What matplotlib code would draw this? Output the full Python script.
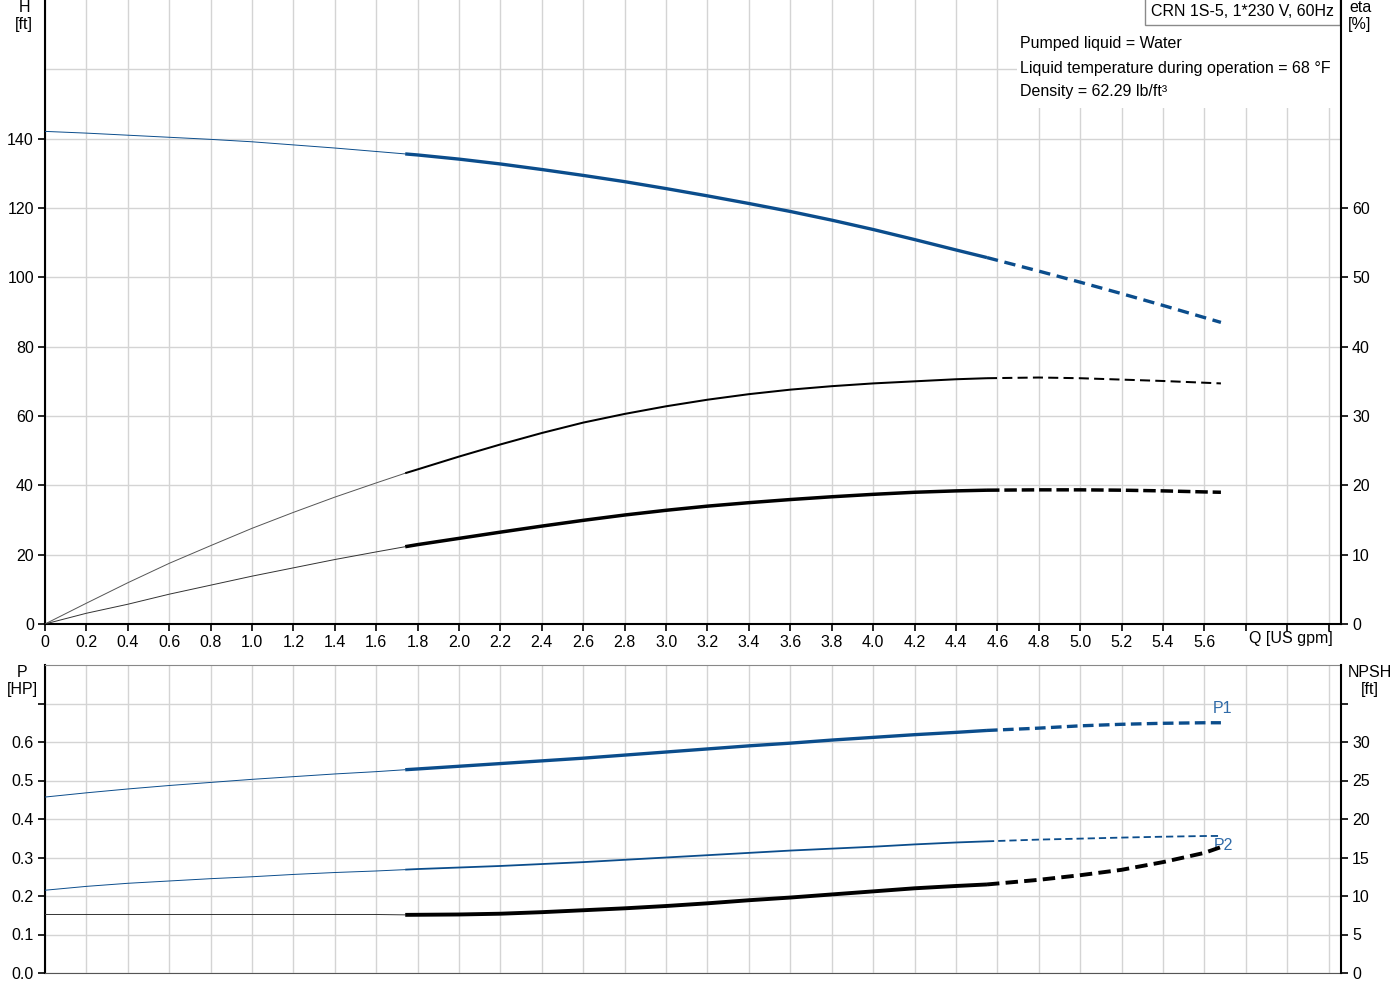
import matplotlib
matplotlib.use("Agg")
import matplotlib.pyplot as plt
import numpy as np
from matplotlib.patches import Rectangle

plt.rcParams['font.family'] = ['Liberation Sans', 'DejaVu Sans']
plt.rcParams['font.size'] = 11.5

# flow points [US gpm]
q = [0, 0.2, 0.4, 0.6, 0.8, 1.0, 1.2, 1.4, 1.6, 1.74, 1.8, 2.0, 2.2, 2.4,
     2.6, 2.8, 3.0, 3.2, 3.4, 3.6, 3.8, 4.0, 4.2, 4.4, 4.55, 4.8, 5.0, 5.2,
     5.4, 5.6, 5.68]
# head [ft]
head = [142.1, 141.6, 141.0, 140.4, 139.8, 139.1, 138.2, 137.3, 136.3, 135.6,
        135.3, 134.1, 132.7, 131.1, 129.4, 127.6, 125.6, 123.5, 121.3, 119.0,
        116.5, 113.8, 110.9, 107.9, 105.7, 101.8, 98.6, 95.3, 91.9, 88.4, 87.0]
# efficiencies [%]
eta_pump = [0, 3.0, 5.95, 8.75, 11.3, 13.8, 16.1, 18.3, 20.35, 21.75, 22.3,
            24.15, 25.9, 27.55, 29.05, 30.3, 31.4, 32.35, 33.15, 33.8, 34.3,
            34.7, 35.0, 35.3, 35.45, 35.55, 35.45, 35.25, 35.05, 34.8, 34.7]
eta_total = [0, 1.55, 2.85, 4.3, 5.6, 6.9, 8.1, 9.3, 10.4, 11.15, 11.45,
             12.35, 13.25, 14.12, 14.95, 15.72, 16.4, 17.0, 17.5, 17.95, 18.35,
             18.7, 19.0, 19.2, 19.3, 19.35, 19.35, 19.3, 19.2, 19.05, 19.0]
# power [HP]
p1 = [0.457, 0.468, 0.478, 0.487, 0.495, 0.503, 0.510, 0.517, 0.523, 0.528,
      0.530, 0.537, 0.544, 0.551, 0.558, 0.566, 0.574, 0.582, 0.590, 0.597,
      0.605, 0.612, 0.619, 0.625, 0.630, 0.636, 0.642, 0.646, 0.6486, 0.650,
      0.650]
p2 = [0.215, 0.225, 0.233, 0.239, 0.245, 0.250, 0.256, 0.261, 0.265, 0.2685,
      0.270, 0.274, 0.278, 0.283, 0.288, 0.294, 0.300, 0.306, 0.312, 0.318,
      0.323, 0.328, 0.334, 0.339, 0.342, 0.3465, 0.349, 0.3517, 0.354,
      0.3558, 0.356]
# NPSH [ft]
npsh = [7.6, 7.6, 7.6, 7.6, 7.6, 7.6, 7.6, 7.6, 7.6, 7.55, 7.56, 7.6, 7.7,
        7.9, 8.15, 8.4, 8.7, 9.05, 9.45, 9.8, 10.2, 10.6, 11.0, 11.3, 11.5,
        12.1, 12.7, 13.4, 14.4, 15.6, 16.35]

q_op_min = 1.74   # start of operating range
q_op_max = 4.55   # end of operating range

BLUE = '#0b4d8c'
GRID = '#d4d4d4'

q_arr = np.array(q)
m_lo = q_arr <= q_op_min
m_op = (q_arr >= q_op_min) & (q_arr <= q_op_max)
m_hi = q_arr >= q_op_max


def draw_curve(ax, y, color, lw, thin_color, dash):
    y = np.array(y)
    ax.plot(q_arr[m_lo], y[m_lo], color=thin_color, lw=0.7, zorder=4)
    ax.plot(q_arr[m_op], y[m_op], color=color, lw=lw, zorder=4,
            solid_capstyle='butt', solid_joinstyle='round')
    ax.plot(q_arr[m_hi], y[m_hi], color=color, lw=lw, zorder=4,
            dashes=dash, dash_capstyle='butt')


def style_axes(ax):
    for s in ['top', 'right']:
        ax.spines[s].set_visible(False)
    ax.spines['left'].set_color('black')
    ax.spines['left'].set_linewidth(1.5)
    ax.set_axisbelow(True)
    ax.grid(True, color=GRID, lw=1)
    ax.tick_params(direction='out', length=5, width=1.2, pad=3)


xticks = np.round(np.arange(0, 6.21, 0.2), 1)
xlabels = ['0' if v == 0 else ('%.1f' % v if v < 5.7 else '') for v in xticks]

fig = plt.figure(figsize=(14, 10), dpi=100)

# ---------------- top: head + efficiency ----------------
ax = fig.add_axes([45 / 1400, 0.376, 1296 / 1400, 0.624])
style_axes(ax)
ax.set_xlim(0, 6.26)
ax.set_ylim(0, 180)
ax.set_xticks(xticks)
ax.set_xticklabels(xlabels)
ax.set_yticks(np.arange(0, 141, 20))
ax.axhline(160, color=GRID, lw=1, zorder=0.5)
ax.spines['bottom'].set_linewidth(1.5)
draw_curve(ax, head, BLUE, 2.4, BLUE, (3.4, 2.0))

axe = ax.twinx()
axe.set_ylim(0, 90)
for s in ['top', 'left', 'bottom']:
    axe.spines[s].set_visible(False)
axe.spines['right'].set_linewidth(1.5)
axe.set_yticks(np.arange(0, 61, 10))
axe.tick_params(direction='out', length=5, width=1.2, pad=3)
draw_curve(axe, eta_pump, 'black', 1.45, '#555555', (5.0, 2.6))
draw_curve(axe, eta_total, 'black', 2.5, '#333333', (3.6, 1.4))

ax.add_patch(Rectangle((0.75, 0.827), 0.25, 0.173, transform=ax.transAxes,
                       fc='white', ec='none', zorder=3))
ax.text(0.7527, 0.930, 'Pumped liquid = Water', transform=ax.transAxes,
        va='center', zorder=5)
ax.text(0.7527, 0.891, 'Liquid temperature during operation = 68 \u00b0F',
        transform=ax.transAxes, va='center', zorder=5)
ax.text(0.7527, 0.853, 'Density = 62.29 lb/ft\u00b3', transform=ax.transAxes,
        va='center', zorder=5)
ax.text(0.9948, 0.981, 'CRN 1S-5, 1*230 V, 60Hz', transform=ax.transAxes,
        ha='right', va='center', zorder=6,
        bbox=dict(boxstyle='square,pad=0.38', fc='white', ec='#8a8a8a', lw=1))
ax.text(6.02, -0.024, 'Q [US gpm]', transform=ax.get_xaxis_transform(),
        ha='center', va='center')

fig.text(24 / 1400, 1 - 16 / 1000, 'H\n[ft]', ha='center', va='center',
         linespacing=1.15)
fig.text(1360 / 1400, 1 - 16 / 1000, 'eta\n[%]', ha='center', va='center',
         linespacing=1.15)

# ---------------- bottom: power + NPSH ----------------
bx = fig.add_axes([45 / 1400, 0.027, 1296 / 1400, 0.308])
style_axes(bx)
bx.spines['top'].set_visible(True)
bx.spines['top'].set_color('#888888')
bx.spines['bottom'].set_color('#555555')
bx.set_xlim(0, 6.26)
bx.set_ylim(0, 0.8)
bx.set_xticks(xticks)
bx.tick_params(axis='x', length=0, labelbottom=False)
bx.set_yticks(np.arange(0, 0.71, 0.1))
bx.set_yticklabels(['%.1f' % v if v < 0.65 else '' for v in np.arange(0, 0.71, 0.1)])
draw_curve(bx, p1, BLUE, 2.4, BLUE, (3.2, 1.6))
draw_curve(bx, p2, BLUE, 1.3, BLUE, (4.0, 2.2))

bn = bx.twinx()
bn.set_ylim(0, 40)
for s in ['top', 'left', 'bottom']:
    bn.spines[s].set_visible(False)
bn.spines['right'].set_linewidth(1.5)
bn.set_yticks(np.arange(0, 36, 5))
bn.set_yticklabels([str(v) if v <= 30 else '' for v in range(0, 36, 5)])
bn.tick_params(direction='out', length=5, width=1.2, pad=3)
draw_curve(bn, npsh, 'black', 2.8, '#333333', (3.2, 1.6))

bx.text(q[-1] + 0.01, p1[-1] + 0.038, 'P1', color='#2f6aa8', ha='center',
        va='center', zorder=6)
bx.text(q[-1] + 0.01, p2[-1] - 0.025, 'P2', color='#2f6aa8', ha='center',
        va='center', zorder=6)

fig.text(22 / 1400, 1 - 681 / 1000, 'P\n[HP]', ha='center', va='center',
         linespacing=1.15)
fig.text(1370 / 1400, 1 - 681 / 1000, 'NPSH\n[ft]', ha='center', va='center',
         linespacing=1.15)

fig.savefig('out.png', dpi=100)
